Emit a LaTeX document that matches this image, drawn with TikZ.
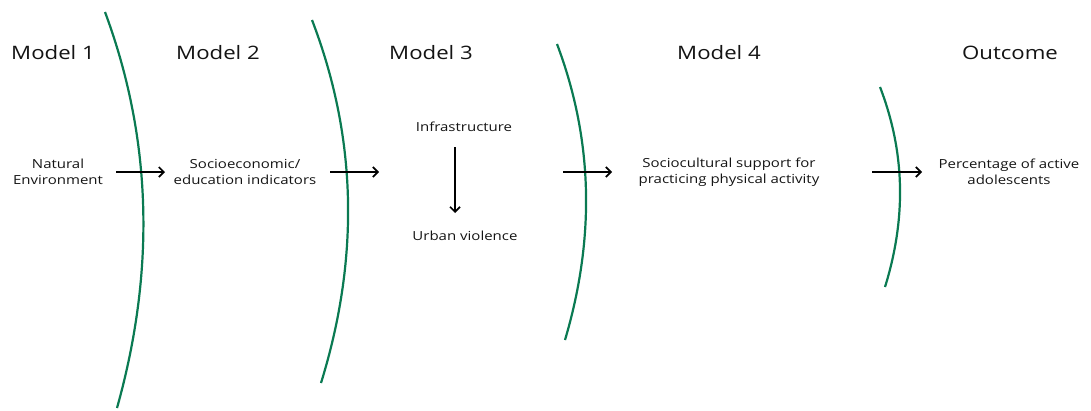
\documentclass[tikz,border=0pt]{standalone}
\usepackage{fontspec}
\setmainfont{Open Sans}[FakeStretch=1.2]
\usetikzlibrary{arrows.meta}
\definecolor{divider}{RGB}{10,122,82}
\begin{document}
\begin{tikzpicture}[x=1pt,y=-1pt,
  title/.style={font=\fontsize{18.5}{22}\selectfont, text=black!92, inner sep=0pt},
  factor/.style={font=\fontsize{12.5}{16}\selectfont, text=black!92, align=center, inner sep=0pt},
  link/.style={-{Straight Barb[length=5pt,width=10pt]}, line width=1.7pt},
  border/.style={divider, line width=2.2pt}]
\useasboundingbox (0,0) rectangle (1091,410);

% column headings
\node[title] (m1) at (53,53) {Model 1};
\node[title] (m2) at (218,53) {Model 2};
\node[title] (m3) at (431,53) {Model 3};
\node[title] (m4) at (719,53) {Model 4};
\node[title] (out) at (1010,53) {Outcome};

% factors
\node[factor] (nat) at (58,172) {Natural\\Environment};
\node[factor] (soc) at (245,172) {Socioeconomic/\\education indicators};
\node[factor] (inf) at (464,127) {Infrastructure};
\node[factor] (urb) at (465,236) {Urban violence};
\node[factor] (cult) at (729,172) {Sociocultural support for\\practicing physical activity};
\node[factor] (act) at (1009,172) {Percentage of active\\adolescents};

% arrow end points
\coordinate (a1s) at (116,172); \coordinate (a1e) at (165,172);
\coordinate (a2s) at (330,172); \coordinate (a2e) at (379,172);
\coordinate (a3s) at (563,172); \coordinate (a3e) at (612,172);
\coordinate (a4s) at (872,172); \coordinate (a4e) at (922,172);
\coordinate (ds) at (455,147); \coordinate (de) at (455,213);

% curved dividers between the models
\draw[border] (105,12) .. controls (154,144) and (154,276) .. (117,408);
\draw[border] (312,20) .. controls (358.5,141) and (358.5,262) .. (321,383);
\draw[border] (557,44) .. controls (594.3,143) and (594.3,241) .. (565,340);
\draw[border] (880,87) .. controls (905.8,154) and (905.8,220) .. (885,287);

% arrows
\draw[link] (a1s) -- (a1e);
\draw[link] (a2s) -- (a2e);
\draw[link] (a3s) -- (a3e);
\draw[link] (a4s) -- (a4e);
\draw[link] (ds) -- (de);
\end{tikzpicture}
\end{document}
